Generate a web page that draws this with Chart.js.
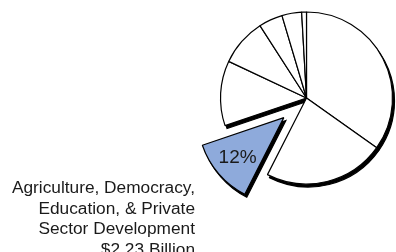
<!DOCTYPE html>
<html>
<head>
<meta charset="utf-8">
<script src="https://cdn.jsdelivr.net/npm/chart.js@4"></script>
<style>
html,body{margin:0;padding:0;background:#fff;}
#wrap{position:relative;width:396px;height:252px;overflow:hidden;}
canvas{display:block;}
</style>
</head>
<body>
<div id="wrap"><canvas id="c" width="396" height="252"></canvas></div>
<script>
// ---- data (percent shares, clockwise from 12 o'clock) ----
const categories = ['Sector 1', 'Sector 2', 'Agriculture, Democracy, Education, & Private Sector Development', 'Sector 4', 'Sector 5', 'Sector 6', 'Sector 7', 'Sector 8'];
const shares = [34.8, 22.7, 12.3, 12.2, 8.9, 4.5, 3.7, 0.9];
const highlightIndex = 2;
const highlightLines = ['Agriculture, Democracy,', 'Education, & Private', 'Sector Development', '$2.23 Billion'];

const EXPLODE = 30;      // px the highlighted slice is pulled out
const SHADOW_DX = 2, SHADOW_DY = 3;

function explodeOf(i){ return i === highlightIndex ? EXPLODE : 0; }

const explodePlugin = {
  id: 'explode',
  afterDatasetsUpdate(chart){
    const meta = chart.getDatasetMeta(0);
    meta.data.forEach((el, i) => {
      if (el._patched) return;
      const orig = el.draw;
      el.draw = function(ctx){
        const off = explodeOf(i);
        if (!off) return orig.call(this, ctx);
        const mid = (this.startAngle + this.endAngle) / 2;
        ctx.save();
        ctx.translate(Math.cos(mid) * off, Math.sin(mid) * off);
        orig.call(this, ctx);
        ctx.restore();
      };
      el._patched = true;
    });
  },
  beforeDatasetsDraw(chart){
    const ctx = chart.ctx;
    const meta = chart.getDatasetMeta(0);
    ctx.save();
    ctx.fillStyle = '#000';
    ctx.strokeStyle = '#000';
    ctx.lineWidth = 1.2;
    meta.data.forEach((el, i) => {
      const off = explodeOf(i);
      const mid = (el.startAngle + el.endAngle) / 2;
      const cx = el.x + Math.cos(mid) * off + SHADOW_DX;
      const cy = el.y + Math.sin(mid) * off + SHADOW_DY;
      ctx.beginPath();
      ctx.moveTo(cx, cy);
      ctx.arc(cx, cy, el.outerRadius, el.startAngle, el.endAngle);
      ctx.closePath();
      ctx.fill();
      ctx.stroke();
    });
    ctx.restore();
  },
  afterDatasetsDraw(chart){
    const ctx = chart.ctx;
    const meta = chart.getDatasetMeta(0);
    const el = meta.data[highlightIndex];
    const total = shares.reduce((a,b)=>a+b,0);
    const mid = (el.startAngle + el.endAngle) / 2;
    const d = EXPLODE + el.outerRadius * 0.71;
    const x = el.x + Math.cos(mid) * d;
    const y = el.y + Math.sin(mid) * d;
    ctx.save();
    ctx.font = '19px "Liberation Sans", Arial, sans-serif';
    ctx.fillStyle = '#1a1a1a';
    ctx.textAlign = 'center';
    ctx.textBaseline = 'middle';
    ctx.fillText(Math.round(shares[highlightIndex] / total * 100) + '%', x, y);
    // side caption
    ctx.font = '17.3px "Liberation Sans", Arial, sans-serif';
    ctx.textAlign = 'right';
    ctx.textBaseline = 'alphabetic';
    highlightLines.forEach((t, k) => {
      ctx.fillText(t, 195, 193 + k * 20.6);
    });
    ctx.restore();
  }
};

new Chart(document.getElementById('c'), {
  type: 'pie',
  data: {
    labels: categories,
    datasets: [{
      data: shares,
      backgroundColor: shares.map((v, i) => i === highlightIndex ? '#8eaadb' : '#ffffff'),
      borderColor: '#000000',
      borderWidth: 1.2
    }]
  },
  options: {
    responsive: false,
    animation: false,
    radius: 86,
    layout: { padding: { left: 217, right: 0, top: 0, bottom: 56 } },
    plugins: { legend: { display: false }, tooltip: { enabled: false }, title: { display: false } }
  },
  plugins: [explodePlugin]
});
</script>
</body>
</html>
